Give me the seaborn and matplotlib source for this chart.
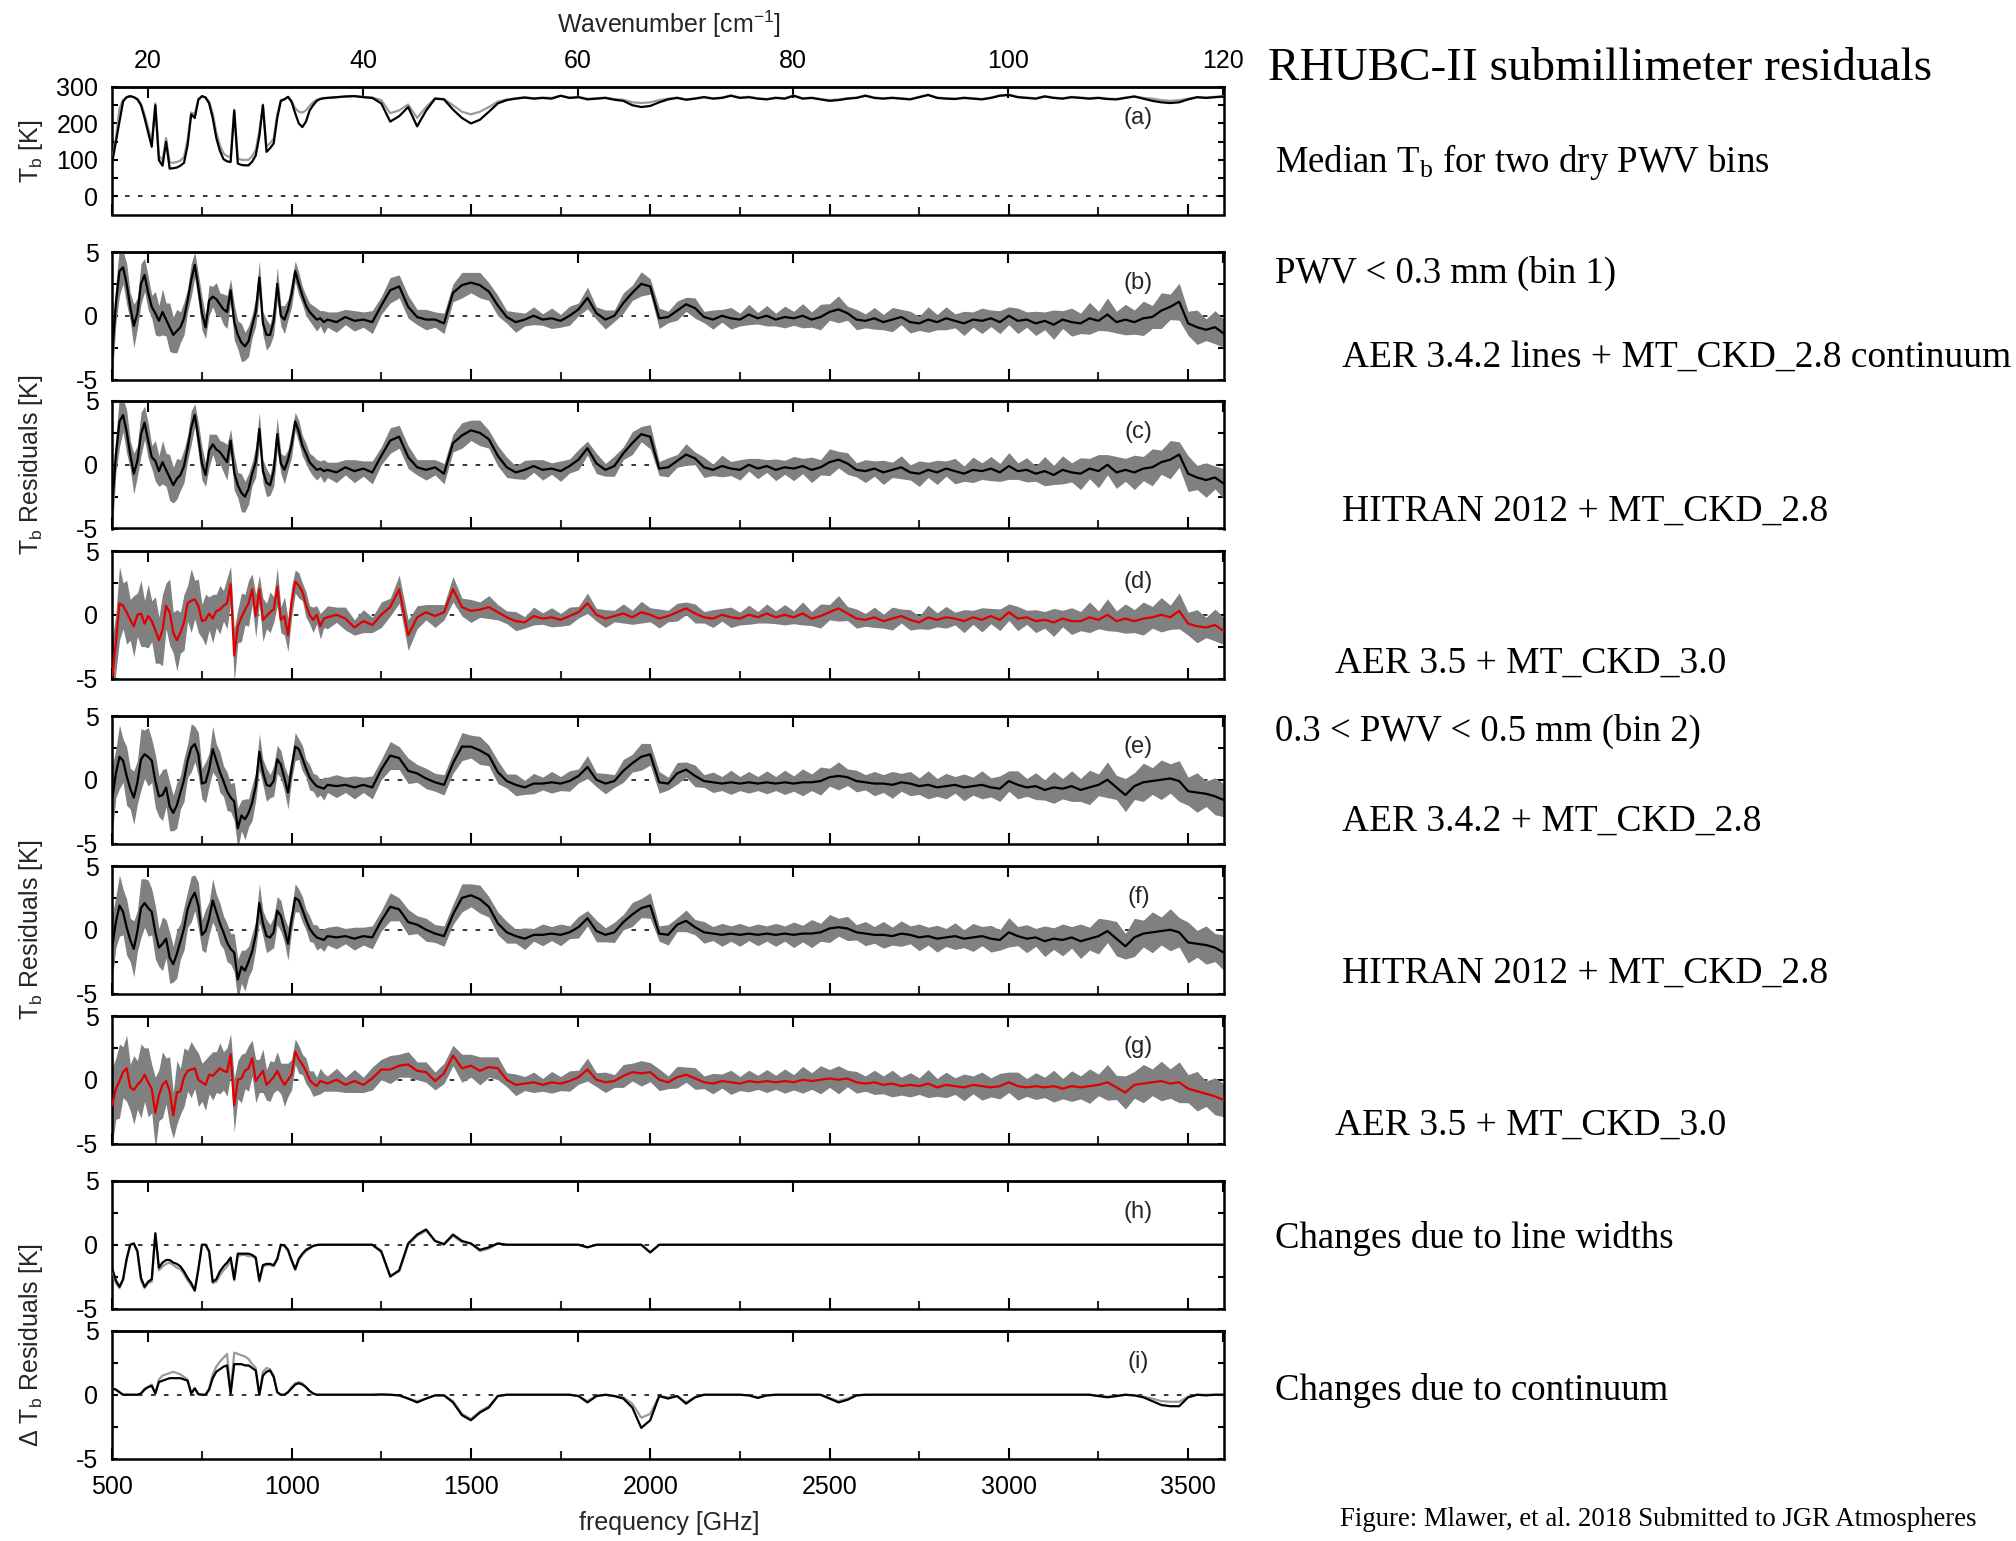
import numpy as np
import matplotlib
matplotlib.use("Agg")
import matplotlib.pyplot as plt
from matplotlib.ticker import MultipleLocator, FixedLocator
import seaborn as sns

# ---------------------------------------------------------------- data
# sampling frequencies [GHz]: 10 GHz steps below 1100, 25 GHz steps above
FREQ_GHZ = np.concatenate([np.arange(500, 1100, 10), np.arange(1100, 3601, 25)])

# (a) median brightness temperature [K]
TB_BIN1 = [
    95, 150, 205, 260, 272, 275, 272, 266, 250, 215,
    175, 136, 250, 99, 84, 150, 76, 77, 79, 84,
    92, 140, 225, 215, 265, 275, 271, 255, 215, 160,
    125, 102, 96, 94, 235, 90, 86, 85, 85, 95,
    112, 165, 250, 122, 132, 145, 215, 262, 266, 273,
    259, 228, 200, 190, 205, 235, 250, 262, 267, 269,
    270, 272, 274, 275, 272, 270, 255, 205, 220, 245,
    192, 235, 268, 266, 238, 215, 200, 210, 232, 255,
    264, 268, 271, 268, 270, 268, 276, 270, 272, 266,
    268, 270, 265, 262, 250, 245, 248, 258, 266, 270,
    265, 268, 272, 268, 270, 276, 270, 272, 268, 266,
    270, 268, 276, 268, 270, 266, 262, 264, 268, 270,
    276, 270, 268, 270, 268, 266, 272, 278, 270, 268,
    267, 270, 268, 266, 270, 276, 278, 272, 270, 268,
    274, 270, 268, 272, 270, 268, 270, 267, 266, 270,
    274, 268, 262, 258, 256, 258, 266, 272, 270, 272, 274,
]
TB_BIN2 = [
    100, 158, 240, 265, 272, 274, 272, 268, 254, 225,
    188, 150, 255, 112, 98, 160, 93, 92, 94, 98,
    108, 155, 230, 225, 268, 274, 272, 260, 228, 175,
    140, 118, 110, 108, 238, 104, 100, 100, 100, 110,
    128, 178, 252, 136, 146, 158, 225, 264, 267, 273,
    262, 242, 232, 230, 236, 248, 258, 265, 268, 270,
    270, 272, 274, 275, 273, 271, 264, 228, 236, 252,
    215, 245, 269, 267, 250, 232, 225, 232, 245, 260,
    266, 269, 272, 269, 271, 270, 276, 271, 273, 268,
    269, 271, 267, 265, 258, 256, 258, 264, 268, 271,
    266, 269, 273, 269, 271, 277, 271, 273, 269, 267,
    271, 269, 277, 269, 271, 267, 264, 266, 269, 271,
    277, 271, 269, 271, 269, 267, 273, 279, 271, 269,
    268, 271, 269, 267, 271, 277, 279, 273, 271, 269,
    275, 271, 269, 273, 271, 269, 271, 268, 267, 271,
    274, 270, 268, 264, 262, 264, 268, 272, 271, 273, 275,
]

# (b) bin 1, AER 3.4.2 + MT_CKD_2.8 : median residual and spread half-width [K]
RES_B = [
    -3.0, 1.0, 3.5, 3.8, 2.5, 0.7, -0.8, 0.2, 2.5, 3.2,
    1.8, 0.7, 0.2, -0.4, 0.3, -0.3, -0.9, -1.5, -1.2, -0.9,
    -0.2, 1.2, 2.8, 4.0, 2.2, 0.2, -0.9, 1.2, 1.5, 1.3,
    0.9, 0.5, 0.3, 2.0, -0.5, -1.5, -2.1, -2.4, -2.0, -0.8,
    0.3, 3.0, -0.6, -1.5, -1.5, -0.4, 2.5, 0.0, -0.3, 0.5,
    1.7, 3.5, 2.5, 1.6, 0.8, 0.3, 0.0, -0.3, -0.2, -0.5,
    -0.3, -0.5, -0.1, -0.4, -0.3, -0.5, 0.8, 2.0, 2.3, 0.7,
    -0.1, -0.3, -0.3, -0.6, 1.8, 2.4, 2.6, 2.4, 1.9, 0.8,
    -0.1, -0.5, -0.3, 0.0, -0.3, -0.2, -0.4, 0.0, 0.5, 1.4,
    0.2, -0.3, 0.0, 1.0, 1.8, 2.5, 2.3, -0.2, -0.1, 0.4,
    0.9, 0.6, -0.1, -0.3, 0.0, -0.2, -0.3, 0.1, -0.2, 0.0,
    -0.3, -0.1, -0.2, 0.0, -0.3, -0.1, 0.3, 0.5, 0.2, -0.3,
    -0.4, -0.2, -0.5, -0.3, -0.1, -0.5, -0.6, -0.3, -0.5, -0.2,
    -0.4, -0.6, -0.3, -0.4, -0.2, -0.5, 0.0, -0.4, -0.3, -0.6,
    -0.4, -0.7, -0.3, -0.5, -0.6, -0.2, -0.4, 0.1, -0.5, -0.3,
    -0.5, -0.2, -0.1, 0.4, 0.7, 1.1, -0.6, -0.9, -1.1, -0.9, -1.4,
]
SPREAD_B = [
    2.0, 1.5, 1.9, 1.3, 1.6, 1.1, 1.7, 1.2, 1.6, 1.3,
    1.3, 0.9, 1.7, 1.2, 1.8, 1.3, 1.9, 1.4, 1.7, 1.2,
    1.3, 0.9, 1.3, 1.0, 1.1, 1.3, 0.9, 1.2, 0.8, 1.3,
    0.9, 1.2, 1.3, 0.9, 1.4, 1.1, 1.5, 1.1, 1.2, 0.9,
    1.1, 1.3, 0.9, 1.2, 0.8, 1.1, 1.3, 0.8, 1.1, 0.8,
    1.0, 0.8, 0.9, 0.7, 0.8, 0.7, 0.8, 0.9, 0.6, 0.9,
    0.6, 0.8, 0.6, 0.8, 0.6, 0.9, 0.7, 1.0, 0.9, 0.9,
    0.6, 0.8, 0.6, 0.8, 0.7, 1.0, 0.8, 1.0, 0.7, 0.8,
    0.5, 0.8, 0.5, 0.7, 0.45, 0.8, 0.5, 0.75, 0.5, 0.85,
    0.5, 0.75, 0.45, 0.8, 0.6, 0.95, 0.6, 0.8, 0.45, 0.75,
    0.55, 0.8, 0.45, 0.75, 0.5, 0.85, 0.5, 0.8, 0.45, 0.8,
    0.5, 0.85, 0.55, 0.95, 0.6, 1.0, 0.65, 1.05, 0.55, 0.8,
    0.55, 0.85, 0.6, 0.95, 0.6, 0.85, 0.55, 1.0, 0.6, 0.9,
    0.55, 0.95, 0.6, 1.0, 0.65, 0.9, 0.7, 1.0, 0.6, 0.95,
    0.7, 1.15, 0.7, 1.1, 0.8, 1.25, 0.75, 1.3, 0.85, 1.2,
    0.95, 1.35, 0.9, 1.4, 1.0, 1.45, 0.95, 1.35, 0.85, 1.3, 1.1,
]

# (c) bin 1, HITRAN 2012 + MT_CKD_2.8
RES_C = [
    -3.2, 0.8, 3.4, 3.9, 2.6, 0.8, -0.7, 0.3, 2.4, 3.3,
    1.9, 0.6, 0.3, -0.5, 0.2, -0.4, -1.0, -1.6, -1.1, -0.8,
    -0.1, 1.3, 2.9, 3.9, 2.1, 0.1, -0.8, 1.1, 1.6, 1.2,
    1.0, 0.6, 0.2, 1.9, -0.6, -1.6, -2.2, -2.5, -1.9, -0.7,
    0.2, 2.8, -0.5, -1.4, -1.6, -0.5, 2.4, 0.1, -0.4, 0.4,
    1.6, 3.4, 2.6, 1.5, 0.9, 0.2, -0.1, -0.4, -0.3, -0.5,
    -0.4, -0.6, -0.2, -0.5, -0.3, -0.6, 0.7, 1.9, 2.2, 0.6,
    -0.2, -0.4, -0.2, -0.7, 1.7, 2.3, 2.7, 2.5, 2.0, 0.7,
    -0.2, -0.6, -0.4, -0.1, -0.4, -0.3, -0.5, -0.1, 0.4, 1.3,
    0.1, -0.4, -0.1, 0.9, 1.7, 2.4, 2.2, -0.3, -0.2, 0.3,
    0.8, 0.5, -0.2, -0.4, -0.1, -0.3, -0.4, 0.0, -0.3, -0.1,
    -0.4, -0.2, -0.3, -0.1, -0.4, -0.2, 0.2, 0.4, 0.1, -0.4,
    -0.5, -0.3, -0.6, -0.4, -0.2, -0.6, -0.7, -0.4, -0.6, -0.3,
    -0.5, -0.7, -0.4, -0.5, -0.3, -0.6, -0.1, -0.5, -0.4, -0.7,
    -0.5, -0.8, -0.4, -0.6, -0.7, -0.3, -0.5, 0.0, -0.6, -0.4,
    -0.6, -0.3, -0.2, 0.2, 0.4, 0.8, -0.7, -1.0, -1.2, -1.0, -1.5,
]
SPREAD_C = [
    2.1, 1.4, 2.0, 1.3, 1.7, 1.1, 1.6, 1.2, 1.7, 1.3,
    1.4, 0.9, 1.6, 1.2, 1.7, 1.3, 1.8, 1.4, 1.6, 1.2,
    1.3, 1.0, 1.3, 0.9, 1.2, 1.3, 0.9, 1.3, 0.8, 1.2,
    0.9, 1.2, 1.4, 0.9, 1.4, 1.0, 1.5, 1.2, 1.2, 0.9,
    1.2, 1.3, 0.9, 1.1, 0.8, 1.2, 1.3, 0.8, 1.1, 0.8,
    1.0, 0.7, 0.9, 0.8, 0.8, 0.7, 0.8, 0.8, 0.6, 0.9,
    0.6, 0.8, 0.6, 0.9, 0.6, 0.9, 0.7, 1.0, 0.9, 0.9,
    0.6, 0.8, 0.6, 0.8, 0.7, 1.0, 0.8, 1.0, 0.7, 0.8,
    0.8, 0.5, 0.75, 0.5, 0.8, 0.45, 0.8, 0.55, 0.8, 0.55,
    0.8, 0.5, 0.8, 0.5, 0.9, 0.6, 0.95, 0.55, 0.75, 0.5,
    0.85, 0.5, 0.8, 0.45, 0.85, 0.55, 0.8, 0.5, 0.8, 0.5,
    0.85, 0.55, 0.95, 0.6, 1.0, 0.6, 1.05, 0.65, 0.85, 0.55,
    0.9, 0.6, 0.95, 0.6, 0.9, 0.6, 1.0, 0.6, 0.95, 0.6,
    1.0, 0.6, 1.0, 0.65, 0.95, 0.7, 1.05, 0.65, 0.95, 0.6,
    1.15, 0.75, 1.1, 0.75, 1.25, 0.8, 1.3, 0.8, 1.25, 0.9,
    1.35, 0.95, 1.45, 0.95, 1.5, 1.0, 1.4, 0.95, 1.35, 0.9, 1.2,
]

# (d) bin 1, AER 3.5 + MT_CKD_3.0
RES_D = [
    -4.8, -2.2, 0.9, 0.7, 0.2, -0.4, -0.9, 0.0, 0.1, -0.7,
    -0.1, -0.5, -1.2, -2.0, -1.2, 0.7, 0.2, -1.4, -2.0, -1.4,
    -0.6, 0.9, 1.1, 1.2, 0.7, -0.5, -0.4, 0.1, -0.3, 0.3,
    0.4, 0.7, 0.9, 2.4, -3.2, -0.9, -0.2, 0.4, 0.9, 2.0,
    -0.1, 2.0, -0.4, -0.1, 0.2, 0.4, 2.2, -0.4, -0.1, -1.6,
    1.0, 2.6, 2.3, 1.8, 0.8, 0.0, -0.4, 0.0, -0.9, -0.3,
    -0.2, 0.0, -0.3, -1.0, -0.5, -0.8, 0.0, 0.6, 2.0, -1.6,
    -0.2, 0.2, -0.1, 0.2, 2.0, 0.6, 0.3, 0.4, 0.6, 0.2,
    -0.2, -0.5, -0.6, -0.1, -0.3, -0.2, -0.4, -0.1, 0.2, 0.9,
    0.0, -0.3, -0.1, 0.1, -0.2, 0.2, 0.0, -0.3, -0.1, 0.2,
    0.5, 0.1, -0.2, -0.3, 0.0, -0.2, -0.3, 0.0, -0.2, 0.1,
    -0.2, 0.0, -0.2, 0.1, -0.3, -0.1, 0.2, 0.5, 0.1, -0.3,
    -0.4, -0.2, -0.5, -0.3, -0.1, -0.4, -0.6, -0.2, -0.4, -0.2,
    -0.3, -0.5, -0.2, -0.4, -0.1, -0.4, 0.2, -0.3, -0.2, -0.5,
    -0.4, -0.6, -0.3, -0.5, -0.5, -0.2, -0.4, 0.0, -0.5, -0.3,
    -0.5, -0.3, -0.2, 0.0, -0.2, 0.3, -0.7, -0.9, -1.0, -0.8, -1.3,
]
SPREAD_D = [
    3.0, 2.3, 2.9, 1.8, 2.5, 1.6, 2.4, 1.7, 2.6, 1.8,
    2.5, 1.6, 2.6, 1.8, 2.8, 1.8, 2.6, 1.6, 2.4, 1.6,
    2.2, 1.4, 2.5, 1.5, 2.1, 1.3, 2.0, 1.3, 1.9, 1.3,
    1.9, 1.2, 2.0, 1.4, 2.1, 1.3, 1.9, 1.2, 1.8, 1.2,
    1.7, 1.1, 1.7, 1.0, 1.6, 1.0, 1.5, 1.0, 1.5, 1.3,
    1.2, 0.9, 1.0, 0.7, 1.0, 0.7, 1.0, 0.7, 1.0, 0.7,
    0.9, 0.6, 0.9, 0.6, 0.9, 0.6, 1.0, 0.7, 1.1, 1.2,
    0.9, 0.6, 0.9, 0.6, 1.0, 0.7, 0.9, 0.6, 0.9, 0.6,
    0.5, 0.75, 0.45, 0.7, 0.45, 0.75, 0.5, 0.7, 0.45, 0.8,
    0.5, 0.7, 0.45, 0.75, 0.55, 0.85, 0.55, 0.75, 0.45, 0.7,
    0.5, 0.75, 0.45, 0.7, 0.5, 0.8, 0.5, 0.75, 0.45, 0.75,
    0.5, 0.8, 0.5, 0.9, 0.55, 0.95, 0.6, 1.0, 0.55, 0.75,
    0.5, 0.8, 0.55, 0.9, 0.55, 0.8, 0.5, 0.95, 0.55, 0.85,
    0.5, 0.9, 0.55, 0.95, 0.6, 0.85, 0.65, 0.95, 0.55, 0.9,
    0.65, 1.1, 0.65, 1.05, 0.75, 1.2, 0.7, 1.25, 0.8, 1.15,
    0.9, 1.3, 0.85, 1.35, 0.95, 1.4, 0.9, 1.3, 0.8, 1.25, 1.05,
]

# (e) bin 2, AER 3.4.2 + MT_CKD_2.8
RES_E = [
    -1.5, 0.5, 1.8, 1.5, 0.3, -0.7, -1.4, -0.2, 1.6, 2.0,
    1.8, 1.5, -0.1, -1.3, -1.2, -0.6, -2.1, -2.6, -2.0, -1.0,
    0.0, 1.5, 2.5, 2.8, 2.0, -0.3, -0.2, 0.8, 2.4, 1.5,
    0.6, -0.1, -0.9, -1.4, -1.7, -3.8, -2.8, -3.1, -2.6, -1.8,
    -0.5, 2.2, 0.6, -0.4, -0.5, -0.1, 1.6, 1.2, 0.1, -1.0,
    0.9, 2.6, 2.4, 1.7, 0.9, 0.2, -0.2, -0.5, -0.6, -0.7,
    -0.4, -0.5, -0.4, -0.6, -0.4, -0.6, 0.8, 1.9, 1.7, 0.7,
    0.5, 0.1, -0.2, -0.4, 1.3, 2.6, 2.6, 2.3, 1.9, 0.6,
    -0.1, -0.4, -0.6, -0.3, -0.3, -0.2, -0.3, -0.1, 0.3, 1.0,
    0.0, -0.3, -0.1, 0.7, 1.3, 1.8, 2.0, -0.2, -0.3, 0.5,
    0.8, 0.3, -0.1, -0.2, -0.3, -0.2, -0.3, -0.2, -0.3, -0.2,
    -0.3, -0.2, -0.3, -0.2, -0.2, -0.1, 0.2, 0.3, 0.2, -0.1,
    -0.2, -0.3, -0.3, -0.4, -0.2, -0.3, -0.5, -0.4, -0.6, -0.5,
    -0.4, -0.6, -0.5, -0.4, -0.6, -0.7, -0.1, -0.4, -0.6, -0.5,
    -0.8, -0.6, -0.7, -0.5, -0.8, -0.6, -0.4, 0.0, -0.6, -1.2,
    -0.5, -0.2, -0.1, 0.0, 0.1, -0.1, -0.9, -1.0, -1.1, -1.3, -1.6,
]
SPREAD_E = [
    2.6, 1.9, 2.5, 1.7, 2.3, 1.6, 2.1, 1.7, 2.4, 1.9,
    2.3, 1.7, 2.1, 1.6, 2.0, 1.5, 1.9, 1.4, 1.8, 1.3,
    1.7, 1.3, 1.9, 1.4, 1.7, 1.2, 1.6, 1.3, 1.8, 1.3,
    1.6, 1.2, 1.5, 1.1, 1.5, 1.6, 1.2, 1.6, 1.1, 1.4,
    1.1, 1.4, 1.0, 1.3, 0.9, 1.2, 1.1, 1.1, 1.0, 1.3,
    0.9, 1.1, 0.8, 1.0, 0.7, 1.0, 0.7, 0.9, 0.6, 0.9,
    0.6, 0.9, 0.6, 0.9, 0.6, 0.9, 0.8, 1.1, 0.9, 1.0,
    0.7, 0.8, 0.7, 0.8, 0.8, 1.1, 0.9, 1.1, 0.8, 0.9,
    0.55, 0.85, 0.55, 0.8, 0.5, 0.85, 0.55, 0.8, 0.55, 0.9,
    0.55, 0.8, 0.5, 0.9, 0.7, 1.05, 0.85, 0.85, 0.5, 0.85,
    0.6, 0.85, 0.5, 0.8, 0.55, 0.95, 0.55, 0.85, 0.55, 0.9,
    0.55, 0.95, 0.6, 1.05, 0.65, 1.1, 0.7, 1.1, 0.65, 0.85,
    0.6, 0.95, 0.7, 1.05, 0.7, 0.95, 0.65, 1.1, 0.7, 1.0,
    0.65, 1.05, 0.7, 1.1, 0.75, 1.0, 0.8, 1.1, 0.7, 1.05,
    0.8, 1.25, 0.8, 1.2, 0.9, 1.35, 0.85, 1.4, 0.95, 1.3,
    1.05, 1.5, 1.05, 1.55, 1.15, 1.6, 1.1, 1.55, 1.0, 1.45, 1.3,
]

# (f) bin 2, HITRAN 2012 + MT_CKD_2.8
RES_F = [
    -1.3, 0.6, 1.9, 1.4, 0.2, -0.8, -1.5, -0.1, 1.7, 2.1,
    1.7, 1.4, -0.2, -1.4, -1.1, -0.7, -2.2, -2.7, -1.9, -0.9,
    0.1, 1.6, 2.4, 2.9, 1.9, -0.4, -0.1, 0.9, 2.3, 1.4,
    0.5, -0.2, -1.0, -1.5, -1.8, -3.9, -2.9, -3.2, -2.5, -1.7,
    -0.4, 2.1, 0.5, -0.5, -0.6, -0.2, 1.5, 1.1, 0.0, -1.1,
    0.8, 2.5, 2.3, 1.6, 0.8, 0.1, -0.3, -0.6, -0.7, -0.8,
    -0.5, -0.6, -0.5, -0.7, -0.5, -0.6, 0.7, 1.8, 1.6, 0.6,
    0.4, 0.0, -0.3, -0.5, 1.2, 2.5, 2.7, 2.4, 1.8, 0.5,
    -0.2, -0.5, -0.7, -0.4, -0.4, -0.3, -0.4, -0.2, 0.2, 0.9,
    -0.1, -0.4, -0.2, 0.6, 1.2, 1.7, 1.9, -0.3, -0.4, 0.4,
    0.7, 0.2, -0.2, -0.3, -0.4, -0.3, -0.4, -0.3, -0.4, -0.3,
    -0.4, -0.3, -0.4, -0.3, -0.3, -0.2, 0.1, 0.2, 0.1, -0.2,
    -0.3, -0.4, -0.4, -0.5, -0.3, -0.4, -0.6, -0.5, -0.7, -0.6,
    -0.5, -0.7, -0.6, -0.5, -0.7, -0.8, -0.2, -0.5, -0.7, -0.6,
    -0.9, -0.7, -0.8, -0.6, -0.9, -0.7, -0.5, -0.1, -0.7, -1.3,
    -0.6, -0.3, -0.2, -0.1, 0.0, -0.2, -1.0, -1.1, -1.2, -1.4, -1.8,
]
SPREAD_F = [
    2.5, 2.0, 2.4, 1.8, 2.2, 1.7, 2.2, 1.6, 2.3, 1.9,
    2.2, 1.8, 2.1, 1.5, 2.1, 1.5, 2.0, 1.4, 1.9, 1.4,
    1.7, 1.4, 1.8, 1.4, 1.8, 1.2, 1.7, 1.3, 1.7, 1.4,
    1.6, 1.3, 1.5, 1.2, 1.5, 1.6, 1.3, 1.6, 1.2, 1.4,
    1.1, 1.5, 1.0, 1.3, 1.0, 1.2, 1.1, 1.2, 1.0, 1.3,
    0.9, 1.1, 0.9, 1.0, 0.8, 1.0, 0.7, 1.0, 0.7, 0.9,
    0.7, 0.9, 0.6, 0.9, 0.7, 0.9, 0.8, 1.1, 0.9, 1.0,
    0.7, 0.9, 0.7, 0.8, 0.8, 1.1, 0.9, 1.1, 0.8, 0.9,
    0.85, 0.55, 0.85, 0.5, 0.85, 0.55, 0.85, 0.5, 0.85, 0.6,
    0.85, 0.55, 0.8, 0.6, 0.95, 0.75, 1.0, 0.6, 0.8, 0.55,
    0.85, 0.6, 0.85, 0.55, 0.9, 0.6, 0.9, 0.55, 0.85, 0.6,
    0.9, 0.6, 1.0, 0.65, 1.1, 0.7, 1.1, 0.7, 0.95, 0.6,
    0.95, 0.65, 1.05, 0.7, 1.0, 0.7, 1.05, 0.7, 1.05, 0.7,
    1.05, 0.7, 1.1, 0.75, 1.05, 0.8, 1.15, 0.75, 1.1, 0.7,
    1.2, 0.85, 1.25, 0.85, 1.35, 0.9, 1.4, 0.9, 1.35, 1.0,
    1.5, 1.05, 1.6, 1.1, 1.65, 1.15, 1.6, 1.05, 1.5, 1.1, 1.4,
]

# (g) bin 2, AER 3.5 + MT_CKD_3.0
RES_G = [
    -2.0, -0.7, -0.1, 0.6, 0.9, -0.6, -0.8, -0.4, -0.1, 0.4,
    -0.2, -0.7, -2.6, -1.2, -0.4, -0.1, -0.9, -2.8, -1.0, -0.9,
    0.2, 0.7, 0.8, 0.9, 0.0, -0.2, -0.4, 0.4, 0.3, 0.6,
    0.9, 0.7, 0.6, 2.0, -2.0, 0.0, 0.1, 0.7, 0.9, 1.7,
    -0.1, 0.3, 0.7, -0.4, -0.1, 0.2, 0.7, 0.1, -0.4, 0.0,
    0.4, 2.2, 1.6, 1.2, 0.7, 0.0, -0.3, -0.5, -0.1, -0.2,
    -0.3, 0.0, -0.4, -0.1, -0.4, 0.1, 0.8, 0.8, 1.1, 1.2,
    0.7, 0.6, -0.1, 0.5, 1.9, 0.9, 1.1, 0.7, 1.0, 0.9,
    0.0, -0.4, -0.3, -0.2, -0.4, -0.2, -0.3, -0.1, 0.2, 0.8,
    0.0, -0.2, -0.1, 0.3, 0.6, 0.5, 0.6, 0.0, -0.2, 0.2,
    0.4, 0.1, -0.2, -0.3, -0.1, -0.2, -0.3, -0.1, -0.2, -0.1,
    -0.2, -0.1, -0.2, 0.0, -0.1, 0.0, 0.1, 0.0, 0.1, -0.2,
    -0.3, -0.2, -0.4, -0.3, -0.5, -0.4, -0.5, -0.3, -0.6, -0.4,
    -0.5, -0.6, -0.4, -0.5, -0.6, -0.5, -0.2, -0.5, -0.6, -0.5,
    -0.6, -0.5, -0.7, -0.5, -0.6, -0.5, -0.4, -0.2, -0.6, -1.0,
    -0.4, -0.3, -0.2, -0.1, -0.3, -0.2, -0.7, -0.9, -1.1, -1.3, -1.6,
]
SPREAD_G = [
    3.0, 2.4, 2.9, 2.0, 2.6, 1.8, 2.7, 1.9, 2.9, 2.1,
    2.7, 1.9, 2.8, 2.0, 2.6, 1.8, 2.7, 1.8, 2.5, 1.8,
    2.3, 1.6, 2.2, 1.6, 2.1, 1.5, 2.0, 1.5, 1.9, 1.6,
    2.0, 1.5, 1.9, 1.6, 2.1, 1.5, 1.9, 1.4, 1.8, 1.4,
    1.7, 1.3, 1.7, 1.2, 1.6, 1.2, 1.5, 1.2, 1.7, 1.3,
    1.2, 1.0, 1.1, 0.8, 1.0, 0.7, 1.0, 0.7, 1.0, 0.7,
    0.6, 0.9, 0.6, 0.9, 0.6, 0.9, 0.8, 1.1, 0.9, 1.0,
    0.7, 0.8, 0.7, 0.8, 0.8, 1.1, 0.9, 1.1, 0.8, 0.9,
    0.55, 0.85, 0.55, 0.8, 0.5, 0.85, 0.55, 0.8, 0.55, 0.9,
    0.55, 0.8, 0.5, 0.9, 0.7, 1.0, 0.75, 0.85, 0.5, 0.85,
    0.6, 0.85, 0.5, 0.8, 0.55, 0.95, 0.55, 0.85, 0.55, 0.9,
    0.55, 0.95, 0.6, 1.05, 0.65, 1.1, 0.7, 1.1, 0.65, 0.85,
    0.6, 0.95, 0.7, 1.05, 0.7, 0.95, 0.65, 1.1, 0.7, 1.0,
    0.65, 1.05, 0.7, 1.1, 0.75, 1.0, 0.8, 1.1, 0.7, 1.05,
    0.8, 1.25, 0.8, 1.2, 0.9, 1.35, 0.85, 1.4, 0.95, 1.3,
    1.05, 1.5, 1.05, 1.55, 1.15, 1.6, 1.1, 1.55, 1.0, 1.45, 1.3,
]

# (h) change due to line widths [K] (black: bin 1, grey: bin 2)
DELTA_WIDTH_BIN1 = [
    -1.9, -2.8, -3.3, -2.7, -1.1, 0.0, 0.1, -0.5, -2.6, -3.3,
    -2.9, -2.7, 0.9, -1.8, -1.4, -1.2, -1.2, -1.4, -1.5, -1.7,
    -2.1, -2.6, -3.0, -3.6, -1.9, 0.0, 0.0, -0.5, -2.9, -2.7,
    -2.1, -1.7, -1.4, -1.0, -2.7, -0.7, -0.7, -0.7, -0.7, -0.8,
    -1.0, -2.8, -1.6, -1.5, -1.5, -1.6, -1.1, 0.0, -0.05, -0.4,
    -1.2, -1.9, -1.1, -0.7, -0.4, -0.25, -0.1, -0.02, 0.0, 0.0,
    0.0, 0.0, 0.0, 0.0, 0.0, 0.0, -0.5, -2.5, -2.0, 0.1,
    0.8, 1.2, 0.3, 0.05, 0.8, 0.3, 0.1, -0.4, -0.2, 0.1,
    0.0, 0.0, 0.0, 0.0, 0.0, 0.0, 0.0, 0.0, 0.0, -0.2,
    0.0, 0.0, 0.0, 0.0, 0.0, 0.0, -0.6, 0.0, 0.0, 0.0,
    0.0, 0.0, 0.0, 0.0, 0.0, 0.0, 0.0, 0.0, 0.0, 0.0,
    0.0, 0.0, 0.0, 0.0, 0.0, 0.0, 0.0, 0.0, 0.0, 0.0,
    0.0, 0.0, 0.0, 0.0, 0.0, 0.0, 0.0, 0.0, 0.0, 0.0,
    0.0, 0.0, 0.0, 0.0, 0.0, 0.0, 0.0, 0.0, 0.0, 0.0,
    0.0, 0.0, 0.0, 0.0, 0.0, 0.0, 0.0, 0.0, 0.0, 0.0,
    0.0, 0.0, 0.0, 0.0, 0.0, 0.0, 0.0, 0.0, 0.0, 0.0, 0.0,
]
DELTA_WIDTH_BIN2 = [
    -2.0, -3.0, -3.4, -2.8, -1.2, 0.0, 0.1, -0.6, -2.8, -3.4,
    -3.0, -2.9, 0.9, -2.0, -1.7, -1.5, -1.4, -1.6, -1.8, -1.9,
    -2.3, -2.8, -3.2, -3.6, -2.0, 0.0, 0.0, -0.6, -3.0, -2.9,
    -2.4, -2.0, -1.7, -1.2, -2.8, -0.9, -0.8, -0.8, -0.9, -0.9,
    -1.1, -2.9, -1.7, -1.6, -1.6, -1.7, -1.2, 0.0, -0.1, -0.5,
    -1.3, -2.0, -1.2, -0.8, -0.5, -0.3, -0.1, -0.02, 0.0, 0.0,
    0.0, 0.0, 0.0, 0.0, 0.0, 0.0, -0.6, -2.4, -2.1, 0.0,
    0.7, 1.1, 0.3, 0.0, 0.7, 0.2, 0.1, -0.5, -0.3, 0.1,
    0.0, 0.0, 0.0, 0.0, 0.0, 0.0, 0.0, 0.0, 0.0, -0.2,
    0.0, 0.0, 0.0, 0.0, 0.0, 0.0, -0.6, 0.0, 0.0, 0.0,
    0.0, 0.0, 0.0, 0.0, 0.0, 0.0, 0.0, 0.0, 0.0, 0.0,
    0.0, 0.0, 0.0, 0.0, 0.0, 0.0, 0.0, 0.0, 0.0, 0.0,
    0.0, 0.0, 0.0, 0.0, 0.0, 0.0, 0.0, 0.0, 0.0, 0.0,
    0.0, 0.0, 0.0, 0.0, 0.0, 0.0, 0.0, 0.0, 0.0, 0.0,
    0.0, 0.0, 0.0, 0.0, 0.0, 0.0, 0.0, 0.0, 0.0, 0.0,
    0.0, 0.0, 0.0, 0.0, 0.0, 0.0, 0.0, 0.0, 0.0, 0.0, 0.0,
]

# (i) change due to continuum [K] (black: bin 1, grey: bin 2)
DELTA_CONT_BIN1 = [
    0.5, 0.4, 0.2, 0.0, 0.0, 0.0, 0.0, 0.0, 0.1, 0.4,
    0.6, 0.7, 0.1, 1.0, 1.1, 1.2, 1.3, 1.3, 1.3, 1.3,
    1.2, 1.1, 0.1, 0.5, 0.05, 0.0, 0.0, 0.4, 1.3, 1.8,
    2.0, 2.2, 2.3, 0.1, 2.4, 2.4, 2.4, 2.3, 2.3, 2.1,
    1.9, 0.0, 1.5, 1.8, 1.9, 1.4, 0.2, 0.0, 0.0, 0.2,
    0.5, 0.8, 0.9, 0.8, 0.6, 0.3, 0.1, 0.0, 0.0, 0.0,
    0.0, 0.0, 0.0, 0.0, 0.0, 0.0, 0.02, 0.0, -0.05, -0.3,
    -0.6, -0.3, -0.05, -0.05, -0.6, -1.6, -2.0, -1.4, -1.0, -0.1,
    0.0, 0.0, 0.0, 0.0, 0.0, 0.0, 0.0, 0.0, -0.1, -0.6,
    -0.1, 0.0, -0.1, -0.3, -1.0, -2.6, -2.0, -0.1, -0.3, -0.1,
    -0.7, -0.2, 0.0, 0.0, 0.0, 0.0, 0.0, -0.05, -0.25, -0.05,
    0.0, 0.0, 0.0, 0.0, 0.0, 0.0, -0.3, -0.6, -0.4, -0.05,
    0.0, 0.0, 0.0, 0.0, 0.0, 0.0, 0.0, 0.0, 0.0, 0.0,
    0.0, 0.0, 0.0, 0.0, 0.0, 0.0, 0.0, 0.0, 0.0, 0.0,
    0.0, 0.0, 0.0, 0.0, 0.0, 0.0, -0.1, -0.2, -0.1, 0.0,
    -0.05, -0.2, -0.5, -0.8, -0.9, -0.9, -0.2, 0.0, -0.05, 0.0, 0.0,
]
DELTA_CONT_BIN2 = [
    0.5, 0.4, 0.2, 0.0, 0.0, 0.0, 0.0, 0.0, 0.1, 0.5,
    0.6, 0.8, 0.1, 1.2, 1.5, 1.6, 1.7, 1.8, 1.7, 1.6,
    1.4, 1.2, 0.1, 0.5, 0.05, 0.0, 0.0, 0.5, 1.6, 2.2,
    2.6, 2.9, 3.2, 0.1, 3.3, 3.2, 3.1, 3.0, 2.8, 2.4,
    2.1, 0.0, 1.8, 2.1, 2.0, 1.5, 0.2, 0.0, 0.0, 0.2,
    0.6, 0.9, 1.0, 0.9, 0.6, 0.3, 0.1, 0.0, 0.0, 0.0,
    0.0, 0.0, 0.0, 0.0, 0.0, 0.0, 0.02, 0.0, -0.05, -0.3,
    -0.5, -0.3, -0.05, -0.05, -0.5, -1.5, -1.9, -1.3, -0.9, -0.1,
    0.0, 0.0, 0.0, 0.0, 0.0, 0.0, 0.0, 0.0, -0.1, -0.5,
    -0.1, 0.0, -0.1, -0.2, -0.7, -1.8, -1.5, -0.1, -0.2, -0.1,
    -0.6, -0.2, 0.0, 0.0, 0.0, 0.0, 0.0, -0.05, -0.2, -0.05,
    0.0, 0.0, 0.0, 0.0, 0.0, 0.0, -0.25, -0.5, -0.3, -0.05,
    0.0, 0.0, 0.0, 0.0, 0.0, 0.0, 0.0, 0.0, 0.0, 0.0,
    0.0, 0.0, 0.0, 0.0, 0.0, 0.0, 0.0, 0.0, 0.0, 0.0,
    0.0, 0.0, 0.0, 0.0, 0.0, 0.0, -0.1, -0.15, -0.1, 0.0,
    -0.05, -0.15, -0.3, -0.5, -0.55, -0.55, -0.15, 0.0, 0.0, 0.0, 0.0,
]

PANEL_LETTERS = ["(a)", "(b)", "(c)", "(d)", "(e)", "(f)", "(g)", "(h)", "(i)"]
WAVENUMBER_TICKS = [20, 40, 60, 80, 100, 120]
FREQ_TICKS = [500, 1000, 1500, 2000, 2500, 3000, 3500]

# ---------------------------------------------------------------- style
sns.set_theme(style="ticks")
plt.rcParams["font.family"] = ["Liberation Sans", "DejaVu Sans"]
plt.rcParams["mathtext.default"] = "regular"
plt.rcParams["axes.unicode_minus"] = False

SANS = ["Liberation Sans", "DejaVu Sans"]
SERIF = ["Liberation Serif", "DejaVu Serif"]
BAND_COLOR = "#808080"
GREY_LINE = "#9a9a9a"
RED = "#e00000"

W, H = 2016, 1541
fig = plt.figure(figsize=(W / 100, H / 100), dpi=100)

LEFT_PX, RIGHT_PX = 112.3, 1224.0
TOPS_PX = [87, 252, 401, 551, 716, 866, 1016, 1181, 1331]
HEIGHT_PX = 127.5

C_GHZ_PER_WN = 29.9792458


def ghz2wn(f):
    return np.asarray(f) / C_GHZ_PER_WN


def wn2ghz(w):
    return np.asarray(w) * C_GHZ_PER_WN


def make_axes(i):
    top = TOPS_PX[i]
    rect = [LEFT_PX / W, 1 - (top + HEIGHT_PX) / H,
            (RIGHT_PX - LEFT_PX) / W, HEIGHT_PX / H]
    ax = fig.add_axes(rect)
    ax.set_xlim(500, 3600)
    for sp in ax.spines.values():
        sp.set_visible(True)
        sp.set_linewidth(1.8)
        sp.set_color("black")
    ax.xaxis.set_major_locator(FixedLocator(FREQ_TICKS))
    ax.xaxis.set_minor_locator(MultipleLocator(250))
    ax.tick_params(axis="x", which="major", direction="in", length=8, width=1.5,
                   bottom=True, top=False, labelbottom=(i == 8),
                   labelsize=18, pad=12, colors="black")
    ax.tick_params(axis="x", which="minor", direction="in", length=5.5, width=1.5,
                   bottom=True, top=False)
    ax.tick_params(axis="y", which="both", direction="in", length=4.5, width=1.5,
                   left=True, right=True, labelleft=True, labelright=False,
                   labelsize=18, pad=10, colors="black")
    sec = ax.secondary_xaxis("top", functions=(ghz2wn, wn2ghz))
    sec.set_xticks(WAVENUMBER_TICKS)
    sec.tick_params(axis="x", which="major", direction="in", length=8, width=1.5,
                    labeltop=(i == 0), labelsize=18, pad=10, colors="black")
    sec.tick_params(axis="x", which="minor", length=0)
    sec.spines["top"].set_linewidth(1.8)
    ax.set_xlabel("")
    ax.set_ylabel("")
    ax.grid(False)
    ax.axhline(0, color="black", lw=1.1, dashes=(3.0, 5.5), zorder=1)
    ax.text(0.923, 0.755, PANEL_LETTERS[i], transform=ax.transAxes,
            ha="center", va="center", fontsize=17, family=SANS, zorder=6)
    return ax


def residual_axis(ax):
    ax.set_ylim(-5, 5)
    ax.yaxis.set_major_locator(FixedLocator([-5, 0, 5]))
    ax.yaxis.set_minor_locator(FixedLocator([-2.5, 2.5]))


freq = FREQ_GHZ

# (a)
ax = make_axes(0)
ax.set_ylim(-50, 300)
ax.yaxis.set_major_locator(FixedLocator([0, 100, 200, 300]))
ax.yaxis.set_minor_locator(FixedLocator([50, 150, 250]))
sns.lineplot(x=freq, y=np.array(TB_BIN2, float), ax=ax, color=GREY_LINE, linewidth=1.6,
             estimator=None, sort=False, legend=False, zorder=3)
sns.lineplot(x=freq, y=np.array(TB_BIN1, float), ax=ax, color="black", linewidth=1.6,
             estimator=None, sort=False, legend=False, zorder=4)

# (b)-(g)
residual_sets = [
    (RES_B, SPREAD_B, "black"),
    (RES_C, SPREAD_C, "black"),
    (RES_D, SPREAD_D, RED),
    (RES_E, SPREAD_E, "black"),
    (RES_F, SPREAD_F, "black"),
    (RES_G, SPREAD_G, RED),
]
for k, (res, spread, col) in enumerate(residual_sets):
    ax = make_axes(k + 1)
    residual_axis(ax)
    r = np.array(res, float)
    s = np.array(spread, float)
    ax.fill_between(freq, r - s, r + s, color=BAND_COLOR, linewidth=0, zorder=2)
    sns.lineplot(x=freq, y=r, ax=ax, color=col, linewidth=1.6,
                 estimator=None, sort=False, legend=False, zorder=4)

# (h)
ax = make_axes(7)
residual_axis(ax)
sns.lineplot(x=freq, y=np.array(DELTA_WIDTH_BIN2, float), ax=ax, color=GREY_LINE,
             linewidth=1.6, estimator=None, sort=False, legend=False, zorder=3)
sns.lineplot(x=freq, y=np.array(DELTA_WIDTH_BIN1, float), ax=ax, color="black",
             linewidth=1.6, estimator=None, sort=False, legend=False, zorder=4)

# (i)
ax = make_axes(8)
residual_axis(ax)
sns.lineplot(x=freq, y=np.array(DELTA_CONT_BIN2, float), ax=ax, color=GREY_LINE,
             linewidth=1.6, estimator=None, sort=False, legend=False, zorder=3)
sns.lineplot(x=freq, y=np.array(DELTA_CONT_BIN1, float), ax=ax, color="black",
             linewidth=1.6, estimator=None, sort=False, legend=False, zorder=4)

# ---------------------------------------------------------------- axis titles
fig.text(669 / W, 1 - 24 / H, "Wavenumber [cm$^{-1}$]", ha="center", va="center",
         fontsize=18, family=SANS)
fig.text(669 / W, 1 - 1523 / H, "frequency [GHz]", ha="center", va="center",
         fontsize=18, family=SANS)
fig.text(31 / W, 1 - 151 / H, "T$_b$ [K]", rotation=90, ha="center", va="center",
         fontsize=18, family=SANS)
fig.text(31 / W, 1 - 465 / H, "T$_b$ Residuals [K]", rotation=90, ha="center",
         va="center", fontsize=18, family=SANS)
fig.text(31 / W, 1 - 930 / H, "T$_b$ Residuals [K]", rotation=90, ha="center",
         va="center", fontsize=18, family=SANS)
fig.text(31 / W, 1 - 1345 / H, "Δ T$_b$ Residuals [K]", rotation=90, ha="center",
         va="center", fontsize=18, family=SANS)

# ---------------------------------------------------------------- right-hand annotations
notes = [
    (1268, 80, "RHUBC-II submillimeter residuals", 34),
    (1275, 172, "Median T$_b$ for two dry PWV bins", 26.5),
    (1275, 283, "PWV < 0.3 mm (bin 1)", 26.5),
    (1342, 367, "AER 3.4.2 lines + MT_CKD_2.8 continuum", 27),
    (1342, 521, "HITRAN 2012 + MT_CKD_2.8", 27),
    (1335, 673, "AER 3.5 + MT_CKD_3.0", 27),
    (1275, 741, "0.3 < PWV < 0.5 mm (bin 2)", 26.5),
    (1342, 831, "AER 3.4.2 + MT_CKD_2.8", 27),
    (1342, 983, "HITRAN 2012 + MT_CKD_2.8", 27),
    (1335, 1135, "AER 3.5 + MT_CKD_3.0", 27),
    (1275, 1248, "Changes due to line widths", 26.5),
    (1275, 1400, "Changes due to continuum", 26.5),
    (1340, 1526, "Figure: Mlawer, et al. 2018 Submitted to JGR Atmospheres", 19.3),
]
for x, y, txt, size in notes:
    fig.text(x / W, 1 - y / H, txt, ha="left", va="baseline", fontsize=size,
             family=SERIF, color="black")

fig.savefig("out.png", dpi=100, facecolor="white")
